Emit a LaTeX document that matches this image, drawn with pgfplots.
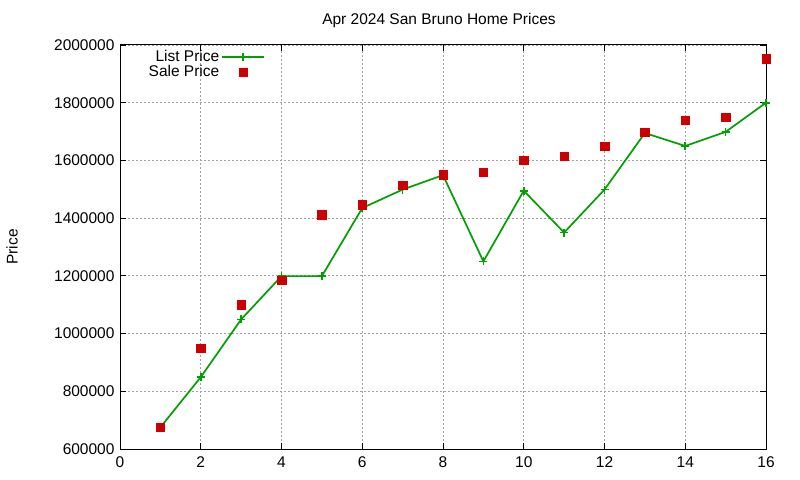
\documentclass[border=0pt]{standalone}
\usepackage{fontspec}
\setmainfont{Liberation Sans}
\usepackage{pgfplots}
\pgfplotsset{compat=1.18}
\definecolor{listgreen}{RGB}{0,160,0}
\definecolor{salered}{RGB}{204,0,0}
\definecolor{gridgray}{RGB}{160,160,160}
\begin{document}
\begin{tikzpicture}[font=\fontsize{15.5bp}{18bp}\selectfont]
\path[use as bounding box] (0,0) rectangle (800bp,480bp);
\begin{axis}[
    at={(120bp,31bp)}, anchor=south west,
    scale only axis, width=646bp, height=404bp,
    xmin=0, xmax=16, ymin=600000, ymax=2000000,
    xtick={0,2,...,16},
    ytick={600000,800000,1000000,1200000,1400000,1600000,1800000,2000000},
    scaled y ticks=false,
    /pgf/number format/assume math mode=true,
    yticklabel style={/pgf/number format/fixed, /pgf/number format/1000 sep={}},
    tick align=inside, major tick length=6bp,
    tick style={black, line width=0.8bp},
    axis line style={black, line width=1bp},
    xticklabel style={yshift=-4bp},
    yticklabel style={xshift=-2bp},
    grid=major,
    major grid style={gridgray, line width=0.8bp, dash pattern=on 2bp off 2bp},
    clip=false,
    legend style={at={(0.041,0.988)}, anchor=north west, draw=none, fill=none,
        inner sep=0pt, row sep=1bp,
        nodes={inner ysep=0pt, text height=11bp, text depth=3bp}},
    legend cell align=right,
    legend plot pos=right,
    legend image code/.code={\draw[mark repeat=2,mark phase=2,#1] plot coordinates {(0bp,0bp) (21bp,0bp) (42bp,0bp)};},
]
\addplot[color=listgreen, line width=1.7bp, mark=+, mark size=4bp, mark options={line width=1.7bp}]
    coordinates {(1,675000) (2,849000) (3,1049000) (4,1199000) (5,1199000) (6,1435000)
    (7,1499000) (8,1549000) (9,1250000) (10,1495000) (11,1350000) (12,1499000)
    (13,1695000) (14,1650000) (15,1699000) (16,1800000)};
\addplot[only marks, mark=square*, mark size=4.2bp, color=salered, mark options={draw=salered, fill=salered}]
    coordinates {(1,676000) (2,950000) (3,1100000) (4,1185000) (5,1412000) (6,1447000)
    (7,1514000) (8,1551000) (9,1560000) (10,1601000) (11,1615000) (12,1649000)
    (13,1698000) (14,1740000) (15,1750000) (16,1953000)};
\legend{List Price, Sale Price}
\end{axis}
\node at (439bp,460bp) {Apr 2024 San Bruno Home Prices};
\node[rotate=90] at (12bp,233bp) {Price};
\end{tikzpicture}
\end{document}
